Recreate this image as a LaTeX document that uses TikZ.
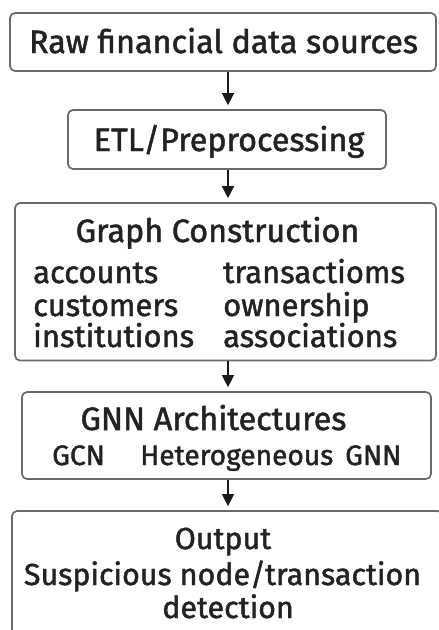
\documentclass[tikz,border=0pt]{standalone}
\usepackage{fontspec}
\setmainfont{Fira Sans}[FakeBold=1.5]
\usetikzlibrary{arrows.meta}
\definecolor{boxgray}{HTML}{6A6A6A}
\definecolor{txtdark}{HTML}{222222}
\definecolor{arrdark}{HTML}{1A1A1A}
\newlength\mylenA
\newlength\mylenB
\newlength\mylenC
\newlength\mylenD
\AtBeginDocument{%
\settowidth\mylenA{\fontsize{10}{10}\selectfont Raw financial data sourcesETL/PreprocessingGraph ConstructionGNN Architectures}%
\pgfmathsetmacro\mySzT{10*1209/\mylenA}%
\settowidth\mylenB{\fontsize{10}{10}\selectfont accountscustomersinstitutionstransactiomsownershipassociations}%
\pgfmathsetmacro\mySzW{10*933/\mylenB}%
\settowidth\mylenC{\fontsize{10}{10}\selectfont GCNHeterogeneousGNN}%
\pgfmathsetmacro\mySzG{10*302/\mylenC}%
\settowidth\mylenD{\fontsize{10}{10}\selectfont OutputSuspicious node/transactiondetection}%
\pgfmathsetmacro\mySzO{10*625/\mylenD}%
}
\tikzset{
  stagebox/.style={draw=boxgray, line width=1.7pt, rounded corners=5pt, inner sep=0pt, fill=white},
  txt/.style={inner sep=0pt, text=txtdark, anchor=base},
  txtl/.style={inner sep=0pt, text=txtdark, anchor=base west},
  arr/.style={draw=arrdark, line width=1.4pt, -{Triangle[width=12pt,length=12pt]}, shorten >=4pt}
}
\begin{document}
\begin{tikzpicture}[x=1pt,y=-1pt]
\useasboundingbox (0,0) rectangle (439,630);
\clip (0,0) rectangle (439,630);
\fill[white] (0,0) rectangle (439,630);
% boxes
\node[stagebox, minimum width=426pt, minimum height=58pt] (n1) at (223,42) {};
\node[stagebox, minimum width=318pt, minimum height=59pt] (n2) at (227,139.5) {};
\node[stagebox, minimum width=421pt, minimum height=157.5pt] (n3) at (225.5,281.75) {};
\node[stagebox, minimum width=409pt, minimum height=87pt] (n4) at (226.5,435.5) {};
\node[stagebox, minimum width=431pt, minimum height=139pt] (n5) at (227.5,580.5) {};
% arrows
\coordinate (ax) at (228,0);
\draw[arr] (n1.south -| ax) -- (n2.north -| ax);
\draw[arr] (n2.south -| ax) -- (n3.north -| ax);
\draw[arr] (n3.south -| ax) -- (n4.north -| ax);
\draw[arr] (n4.south -| ax) -- (n5.north -| ax);
% titles
\begin{scope}[every node/.append style={font=\fontsize{\mySzT}{\mySzT}\selectfont}]
\node[txt] (t1) at (223.5,53) {Raw financial data sources};
\node[txt] (t2) at (229,151) {ETL/Preprocessing};
\node[txt] (t3) at (217.5,242) {Graph Construction};
\node[txt] (t4) at (213.5,430) {GNN Architectures};
\end{scope}
% graph construction items
\begin{scope}[every node/.append style={font=\fontsize{\mySzW}{\mySzW}\selectfont}]
\node[txtl] (w1) at (33,283) {accounts};
\node[txtl] (w2) at (33,316) {customers};
\node[txtl] (w3) at (33,347) {institutions};
\node[txtl] (w4) at (223,283) {transactioms};
\node[txtl] (w5) at (223,316) {ownership};
\node[txtl] (w6) at (223,347) {associations};
\end{scope}
% GNN items
\begin{scope}[every node/.append style={font=\fontsize{\mySzG}{\mySzG}\selectfont}]
\node[txtl] (g1) at (52,465) {GCN};
\node[txtl] (g2) at (140,465) {Heterogeneous};
\node[txtl] (g3) at (345,465) {GNN};
\end{scope}
% output
\begin{scope}[every node/.append style={font=\fontsize{\mySzO}{\mySzO}\selectfont}]
\node[txt] (o1) at (223,549) {Output};
\node[txt] (o2) at (222.5,585) {Suspicious node/transaction};
\node[txt] (o3) at (228,618) {detection};
\end{scope}
\end{tikzpicture}
\end{document}
